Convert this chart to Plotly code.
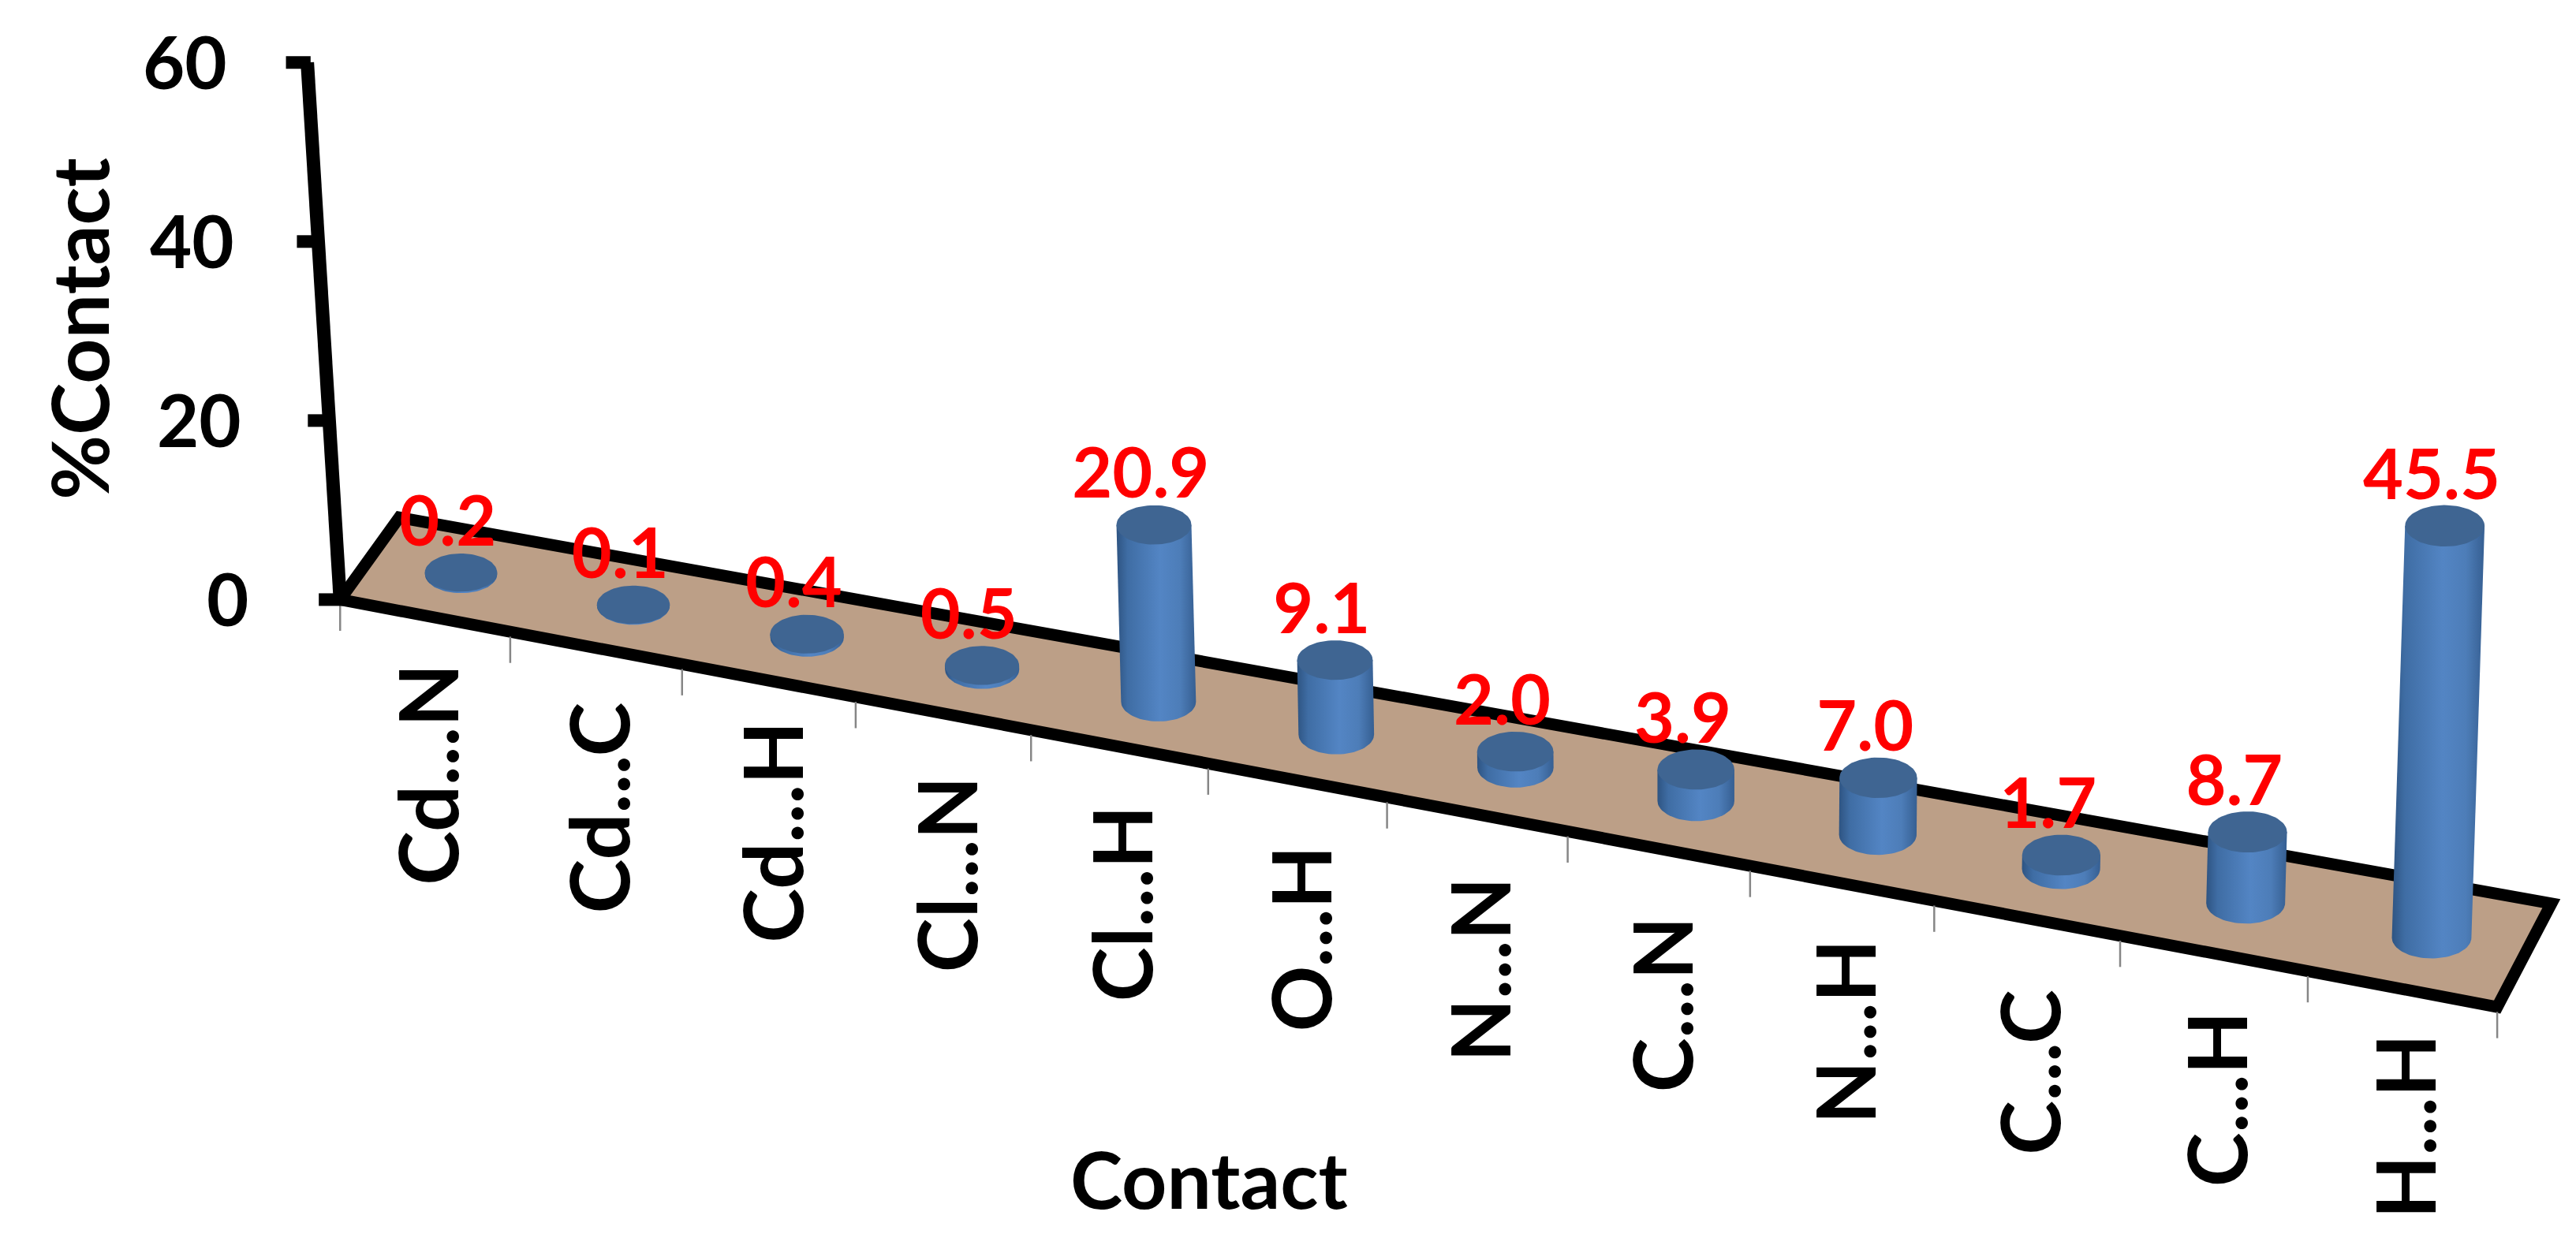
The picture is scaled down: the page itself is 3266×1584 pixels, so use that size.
import numpy as np
import plotly.graph_objects as go

categories = ["Cd...N", "Cd...C", "Cd...H", "Cl...N", "Cl...H", "O...H",
              "N...N", "C...N", "N...H", "C...C", "C...H", "H...H"]
values = [0.2, 0.1, 0.4, 0.5, 20.9, 9.1, 2.0, 3.9, 7.0, 1.7, 8.7, 45.5]
value_labels = ["0.2", "0.1", "0.4", "0.5", "20.9", "9.1", "2.0", "3.9", "7.0", "1.7", "8.7", "45.5"]
y_ticks = [0, 20, 40, 60]

FONT = "Lato"
WIDTH, HEIGHT = 3266, 1584
VIEW_W, VIEW_H = 1568, 760.4   # the axes run in these units
PAGE_PAD = 3.8                 # the page body margin, in axis units


def along(u):
    # perspective stretch along the floor, u runs 0..12
    t = u / 12
    return 1236 * t + 77 * t * t


def floor_point(u, d):
    # d = 0 front edge, d = 1 back edge
    x_front = 207 + along(u)
    y_front = 365 + along(u) * 248 / 1313
    x_back = 243 + along(u) * 1310 / 1313
    y_back = 315 + along(u) * 235 / 1313
    return x_front + (x_back - x_front) * d, y_front + (y_back - y_front) * d


def height_of(v):
    return 4.85 * v * (1 + 0.003 * v)


def lean_of(x):
    return -0.333 + (x - 207) * 0.0004


def base_of(u):
    x, y = floor_point(u, 0.5)
    t = u / 12
    return x + 3.5 + 14 * t - 17 * t * t, y


def top_of(u, v):
    x, y = base_of(u)
    return x + lean_of(x) * v, y - height_of(v)


def axis_point(v):
    return 207 - 0.333 * v, 365 - 5.45 * v


fig = go.Figure()

# floor
corners = [floor_point(0, 0), floor_point(12, 0), floor_point(12, 1), floor_point(0, 1), floor_point(0, 0)]
fig.add_trace(go.Scatter(
    x=[c[0] for c in corners], y=[c[1] for c in corners], mode="lines", fill="toself",
    fillcolor="#BC9F87", line=dict(color="black", width=15), hoverinfo="skip"))

# category ticks
tick_x, tick_y = [], []
for i in range(len(categories) + 1):
    x, y = floor_point(i, 0)
    tick_x += [x, x, None]
    tick_y += [y + 3, y + 19, None]
fig.add_trace(go.Scatter(x=tick_x, y=tick_y, mode="lines",
                         line=dict(color="#868686", width=2.5), hoverinfo="skip"))

# value axis and its ticks
ax_x = [axis_point(v)[0] for v in y_ticks]
ax_y = [axis_point(v)[1] for v in y_ticks]
fig.add_trace(go.Scatter(x=ax_x, y=ax_y, mode="lines", line=dict(color="black", width=17), hoverinfo="skip"))
vt_x, vt_y = [], []
for x, y in zip(ax_x, ax_y):
    vt_x += [x + 2, x - 13, None]
    vt_y += [y, y, None]
fig.add_trace(go.Scatter(x=vt_x, y=vt_y, mode="lines", line=dict(color="black", width=16), hoverinfo="skip"))

# cylinders
side_scale = [[0, "#2E5482"], [0.14, "#3F6DA4"], [0.55, "#5385C4"], [0.8, "#4D7DB8"], [1, "#365F92"]]
theta_low = np.linspace(0, np.pi, 40)
theta_all = np.linspace(0, 2 * np.pi, 80)
for i, v in enumerate(values):
    u = i + 0.5
    bx, by = base_of(u)
    tx, ty = top_of(u, v)
    rx = 22 + 2.2 * i / 11
    ry = 11.6 + 1.0 * i / 11
    # side: lower half of the base ellipse, then straight up to the top ellipse
    sx = list(bx - rx * np.cos(theta_low)) + [tx + rx, tx - rx]
    sy = list(by + ry * np.sin(theta_low)) + [ty, ty]
    sx.append(sx[0])
    sy.append(sy[0])
    fig.add_trace(go.Scatter(
        x=sx, y=sy, mode="lines", line=dict(width=0), fill="toself",
        fillgradient=dict(type="horizontal", colorscale=side_scale), hoverinfo="skip"))
    fig.add_trace(go.Scatter(
        x=tx + rx * np.cos(theta_all), y=ty + ry * np.sin(theta_all), mode="lines",
        line=dict(width=0), fill="toself", fillcolor="#3F6592", hoverinfo="skip"))

# data labels sit just above and left of each cylinder top
label_x = [top_of(i + 0.5, v)[0] - 8 for i, v in enumerate(values)]
label_y = [top_of(i + 0.5, v)[1] - 27 for i, v in enumerate(values)]
fig.add_trace(go.Scatter(
    x=label_x, y=label_y, mode="text", text=value_labels, textposition="middle center",
    textfont=dict(family=FONT, size=88, color="#FF0000", weight="bold"), hoverinfo="skip"))

# value tick labels, the gap to the axis narrows with height
for v, x, y in zip(y_ticks, ax_x, ax_y):
    fig.add_annotation(x=x - (55 - 0.117 * v), y=y - 1, text=str(v), showarrow=False,
                       xanchor="right", yanchor="middle",
                       font=dict(family=FONT, size=92, color="black", weight="bold"))

# category labels hang below the front edge
for i, name in enumerate(categories):
    x, y = floor_point(i + 0.5, 0)
    fig.add_annotation(x=x + 1, y=y + 165 - 2.2 * i, text=name, showarrow=False, textangle=-90,
                       xanchor="center", yanchor="bottom",
                       font=dict(family=FONT, size=104, color="black", weight="bold"))

fig.add_annotation(x=47.5, y=200, text="%Contact", showarrow=False, textangle=-90,
                   font=dict(family=FONT, size=100, color="black", weight="bold"))
fig.add_annotation(x=736, y=717, text="Contact", showarrow=False,
                   font=dict(family=FONT, size=100, color="black", weight="bold"))

fig.update_layout(
    width=WIDTH, height=HEIGHT, margin=dict(l=0, r=0, t=0, b=0),
    paper_bgcolor="white", plot_bgcolor="white", showlegend=False,
    xaxis=dict(range=[PAGE_PAD, VIEW_W + PAGE_PAD], visible=False, fixedrange=True),
    yaxis=dict(range=[VIEW_H + PAGE_PAD, PAGE_PAD], visible=False, fixedrange=True),
)

fig.write_html("out.html")
